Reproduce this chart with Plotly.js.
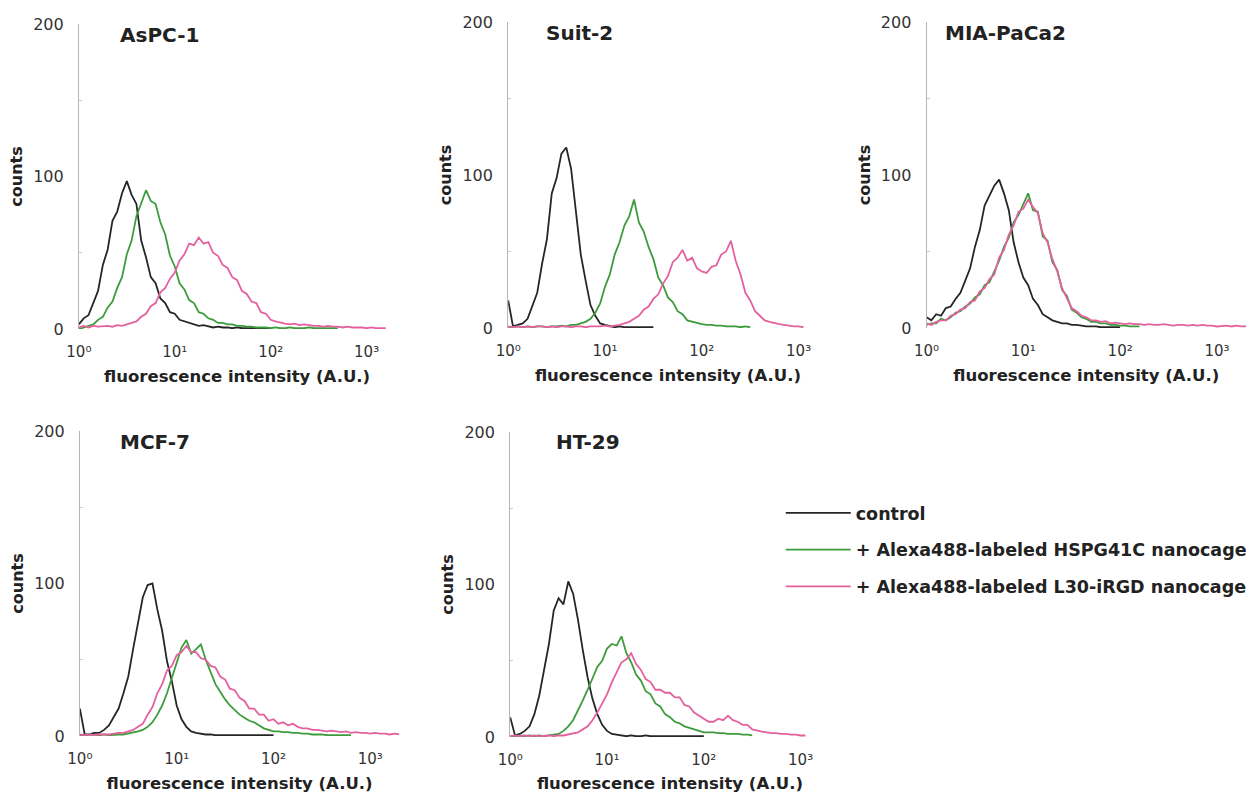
<!DOCTYPE html>
<html>
<head>
<meta charset="utf-8">
<script src="https://cdn.plot.ly/plotly-3.0.1.min.js"></script>
<style>
  html, body { margin: 0; padding: 0; background: #fff; }
  #chart { width: 1252px; height: 793px; }
</style>
</head>
<body>
<div id="chart"></div>
<script>
// ---- data: log10 of fluorescence channel, and counts per channel ----
const logChannels = [0,0.05,0.1,0.15,0.2,0.25,0.3,0.35,0.4,0.45,0.5,0.55,0.6,0.65,0.7,0.75,0.8,0.85,0.9,0.95,
  1,1.05,1.1,1.15,1.2,1.25,1.3,1.35,1.4,1.45,1.5,1.55,1.6,1.65,1.7,1.75,1.8,1.85,1.9,1.95,
  2,2.05,2.1,2.15,2.2,2.25,2.3,2.35,2.4,2.45,2.5,2.55,2.6,2.65,2.7,2.75,2.8,2.85,2.9,2.95,
  3,3.05,3.1,3.15,3.2,3.25,3.3];

const seriesNames = ['control', '+ Alexa488-labeled HSPG41C nanocage', '+ Alexa488-labeled L30-iRGD nanocage'];
const cellLines = ['AsPC-1', 'Suit-2', 'MIA-PaCa2', 'MCF-7', 'HT-29'];
const yTickVals = [0, 100, 200];
const xTickVals = [1, 10, 100, 1000];
const xTickText = ['10⁰', '10¹', '10²', '10³'];

const aspcControl = [3,7,9,17,25,42,52,71,77,89,97,88,82,58,47,34,30,20,17,11,10,6,5,4,3,2,2.5,1.5,1,1.5,1,1,0.5,1,0.5,0.5,0.5,0.5,0.5,0.5,0.5];
const aspcHspg = [0,1,2,3,6,8,14,18,27,34,49,58,74,82,91,84,82,70,62,48,41,30,26,19,17,11,10,7,6,4,4,3,3,2,2,1.5,1.5,1,1,1,0.5,1,0.5,0.5,1,0.5,0.5,0.5,1,0.5,0.5,0.5,0.5,0.5,0.5];
const aspcIrgd = [1,2,1,2,1.5,2,2,1.5,2.5,2,3,4,5,8,10,15,17,24,27,33,37,45,49,56,55,60,56,57,50,48,42,40,34,32,25,23,18,17,11,10,6,5,4,3.5,3,3.5,2.5,3,2.5,2,2,1.5,2,1.5,1.5,1,1.5,1,1,1,0.5,1,0.5,0.5,0.5];

const suitControl = [18,1,2,3,6,15,23,42,58,88,98,114,118,104,78,48,31,15,8,3,2,1,0.5,1,0.5,0.5,0.5,0.5,0.5,0.5,0.5];
const suitHspg = [0.5,0.5,1,0.5,1,0.5,1,1,0.5,1,1,1.5,1,2,2,3,4,6,10,16,27,35,48,56,67,73,84,69,63,53,45,33,28,20,17,11,9,5,4,3,2.5,2,2,1.5,1.5,1,1,1,0.5,1,0.5];
const suitIrgd = [1,0.5,1,0.5,1,0.5,1,1,0.5,1,0.5,1,1,0.5,1,1,0.5,1,1,1,1.5,1,1.5,2,3,4,6,8,12,14,19,22,29,34,43,46,51,44,46,39,37,36,40,41,48,50,57,44,35,23,18,11,8,5,4,3,2.5,2,1.5,1,1,0.5];

const miaControl = [7,5,9,8,13,14,19,23,31,39,53,64,80,87,93,97,88,77,56,43,33,28,19,15,9,7,5,4,3,3,2,2,1.5,1,1,1,0.5,0.5,0.5,0.5,0.5];
const miaHspg = [2,3,3,6,5,7,10,11,14,16,20,22,28,30,37,44,53,59,69,74,81,88,77,76,60,57,43,38,25,21,12,10,7,6,4,4,3,3,2,2,1.5,1.5,1,1,1];
const miaIrgd = [3,2,4,5,5,8,9,12,13,17,18,24,26,32,35,46,51,61,67,76,78,84,79,75,62,56,45,37,26,20,13,11,8,7,5,5,4,4.5,3,3.5,3,2.5,3,2.5,2.5,2,2.5,2,2,2.5,2,1.5,2,2,1.5,2,1.5,2,1.5,1.5,1,1.5,1.5,1,1.5,1,1];

const mcfControl = [18,1,1,2,2,4,7,13,18,28,39,57,74,91,99,100,83,69,49,36,20,11,6,3,2,1.5,1,1,0.5,0.5,0.5,0.5,0.5,0.5,0.5,0.5,0.5,0.5,0.5,0.5,0.5];
const mcfHspg = [0.5,0.5,1,0.5,0.5,1,0.5,1,1,1,1.5,2,3,4,6,9,14,20,28,38,48,58,63,54,57,60,50,42,34,29,24,20,17,14,12,10,9,7,5,4,3,3,2.5,2.5,2,2,1.5,1.5,1,1,1,0.5,0.5,0.5,0.5,0.5,0.5];
const mcfIrgd = [1,0.5,1,0.5,1,1,1,1.5,2,2,3,4,6,8,14,19,28,34,43,46,53,55,59,55,55,51,50,46,45,39,37,31,30,25,23,18,18,14,14,10,11,8,9,7,8,6,5,5,4,4,3.5,3,3.5,3,2.5,3,2,2.5,2,2,1.5,2,1.5,1.5,1,1.5,1];

const htControl = [13,1,2,4,7,15,27,43,61,83,91,87,102,94,77,57,39,25,15,8,4,2,1.5,1,0.5,1,0.5,0.5,1,0.5,0.5,0.5,0.5,0.5,0.5,0.5,0.5,0.5,0.5,0.5,0.5];
const htHspg = [0.5,0.5,1,0.5,1,0.5,1,0.5,1,1.5,2,4,7,11,17,24,31,38,46,50,58,61,60,66,55,49,41,37,30,28,22,20,15,13,10,9,7,6,5,4,3,3,3,2.5,2.5,2,2,2,1.5,1.5,1];
const htIrgd = [0.5,1,0.5,1,0.5,1,0.5,1,1,0.5,1,1,1.5,2,3,5,7,11,16,22,28,36,42,49,51,55,48,44,38,36,31,31,29,29,26,26,21,20,16,14,12,10,10,12,11,14,11,10,8,8,5,4,3.5,3,2.5,2.5,2,2,1.5,1.5,1,1];

const panelData = [
  [aspcControl, aspcHspg, aspcIrgd],
  [suitControl, suitHspg, suitIrgd],
  [miaControl, miaHspg, miaIrgd],
  [mcfControl, mcfHspg, mcfIrgd],
  [htControl, htHspg, htIrgd]
];

// ---- styling / layout ----
const W = 1252, H = 793;
const colors = ['#262626', '#3c9c3c', '#e4619f'];
const geo = [
  {x0: 79,  x1: 396,  yTop: 24,  yBot: 329, tx: 118, ty: 35},
  {x0: 509, x1: 829,  yTop: 22,  yBot: 328, tx: 545, ty: 33},
  {x0: 928, x1: 1248, yTop: 22,  yBot: 328, tx: 945, ty: 33},
  {x0: 80,  x1: 400,  yTop: 431, yBot: 736, tx: 118, ty: 442},
  {x0: 511, x1: 831,  yTop: 432, yBot: 737, tx: 555, ty: 442}
];
const FONT = 'DejaVu Sans, Verdana, sans-serif';

const xVals = logChannels.map(v => Math.pow(10, v));
const traces = [];
const layout = {
  width: W, height: H,
  margin: {l: 0, r: 0, t: 0, b: 0},
  paper_bgcolor: '#fff', plot_bgcolor: '#fff',
  showlegend: true,
  legend: {
    x: 782 / W, y: 1 - 495 / H, xanchor: 'left', yanchor: 'top',
    font: {family: FONT, size: 17.5, color: '#222'},
    tracegroupgap: 11, itemwidth: 65, bgcolor: 'rgba(0,0,0,0)'
  },
  annotations: []
};

panelData.forEach((sets, p) => {
  const s = p === 0 ? '' : String(p + 1);
  sets.forEach((ys, k) => {
    traces.push({
      type: 'scatter', mode: 'lines',
      x: xVals.slice(0, ys.length), y: ys,
      xaxis: 'x' + s, yaxis: 'y' + s,
      name: '<b>' + seriesNames[k] + '</b>',
      legendgroup: 'g' + k,
      showlegend: p === 0,
      line: {color: colors[k], width: 1.8},
      hoverinfo: 'skip'
    });
  });
  const g = geo[p];
  layout['xaxis' + s] = {
    type: 'log', range: [0, 3.3],
    domain: [g.x0 / W, g.x1 / W],
    anchor: 'y' + s,
    tickmode: 'array', tickvals: xTickVals, ticktext: xTickText,
    ticks: 'outside', ticklen: 9, tickcolor: 'rgba(0,0,0,0)',
    tickfont: {family: FONT, size: 15, color: '#333'},
    showline: false, showgrid: false, zeroline: false,
    title: {text: '<b>fluorescence intensity (A.U.)</b>', font: {family: FONT, size: 16.5, color: '#222'}, standoff: 10}
  };
  layout['yaxis' + s] = {
    range: [0, 200],
    domain: [1 - g.yBot / H, 1 - g.yTop / H],
    anchor: 'x' + s,
    tickmode: 'array', tickvals: yTickVals,
    ticks: 'outside', ticklen: 11, tickcolor: 'rgba(0,0,0,0)',
    tickfont: {family: FONT, size: 16, color: '#333'},
    minor: {tickvals: [50, 150], ticks: 'inside', ticklen: 3, tickcolor: '#c8c8c8'},
    showline: true, linecolor: '#b5b5b5', linewidth: 1,
    showgrid: false, zeroline: false,
    title: {text: '<b>counts</b>', font: {family: FONT, size: 16, color: '#222'}, standoff: 6}
  };
  layout.annotations.push({
    xref: 'paper', yref: 'paper', x: g.tx / W, y: 1 - g.ty / H,
    xanchor: 'left', yanchor: 'middle', showarrow: false,
    text: '<b>' + cellLines[p] + '</b>',
    font: {family: FONT, size: 20, color: '#222'}
  });
});

Plotly.newPlot('chart', traces, layout, {displayModeBar: false, staticPlot: true});
</script>
</body>
</html>
